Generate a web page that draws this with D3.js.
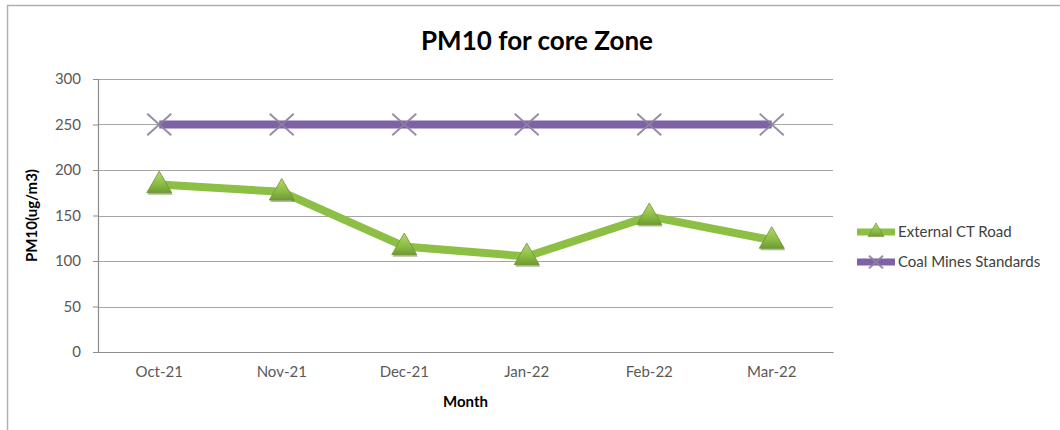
<!DOCTYPE html>
<html>
<head>
<meta charset="utf-8">
<script src="https://cdn.jsdelivr.net/npm/d3@7"></script>
<style>
  body { margin: 0; background: #fff; }
  text { font-family: Lato, "Open Sans", sans-serif; }
</style>
</head>
<body>
<div id="chart"></div>
<script>
    // datos del grafico
    var months = ["Oct-21", "Nov-21", "Dec-21", "Jan-22", "Feb-22", "Mar-22"];
    var externalRoad = [184, 176, 116, 105, 149, 123];
    var coalStandard = [250, 250, 250, 250, 250, 250];
    var yTicks = [0, 50, 100, 150, 200, 250, 300];
    var seriesNames = ["External CT Road", "Coal Mines Standards"];

    var W = 1060, H = 430;
    var margin = {top: 79, left: 98, right: 227, bottom: 78};
    var width = W - margin.left - margin.right,
        height = H - margin.top - margin.bottom;

    var svg = d3.select("#chart")
      .append("svg")
        .attr("width", W)
        .attr("height", H);

    // borde exterior
    svg.append("rect")
        .attr("x", 7.5).attr("y", 5.5)
        .attr("width", W).attr("height", H)
        .attr("fill", "none")
        .attr("stroke", "#b0b0b0")
        .attr("stroke-width", 1.5);

    var defs = svg.append("defs");
    var grad = defs.append("linearGradient")
        .attr("id", "triGrad").attr("x1", 0).attr("y1", 0).attr("x2", 0).attr("y2", 1);
    grad.append("stop").attr("offset", "0%").attr("stop-color", "#b5d86e");
    grad.append("stop").attr("offset", "60%").attr("stop-color", "#8cbc45");
    grad.append("stop").attr("offset", "100%").attr("stop-color", "#6f9a32");

    var g = svg.append("g")
        .attr("transform", "translate(" + margin.left + "," + margin.top + ")");

    var x = d3.scaleBand().domain(months).range([0, width]);
    var y = d3.scaleLinear().domain([0, 300]).range([height, 0]);
    var cx = function(i) { return x(months[i]) + x.bandwidth() / 2; };

    // lineas de cuadricula
    g.selectAll(".grid")
      .data(yTicks.filter(function(d) { return d > 0; }))
      .enter().append("line")
        .attr("x1", 0).attr("x2", width)
        .attr("y1", function(d) { return Math.round(y(d)) + 0.5; })
        .attr("y2", function(d) { return Math.round(y(d)) + 0.5; })
        .attr("stroke", "#a6a6a6").attr("stroke-width", 1.2);

    // eje y
    var yAxis = g.append("g")
        .call(d3.axisLeft(y).tickValues(yTicks).tickSize(5).tickPadding(12));
    yAxis.select(".domain").attr("stroke", "#8c8c8c").attr("stroke-width", 1.2);
    yAxis.selectAll(".tick line").attr("stroke", "#8c8c8c");
    yAxis.selectAll("text").attr("fill", "#595959").style("font-size", "15px")
        .style("font-family", "Lato, sans-serif");

    // eje x
    var xAxis = g.append("g")
        .attr("transform", "translate(0," + height + ")")
        .call(d3.axisBottom(x).tickSize(0).tickPadding(14));
    xAxis.select(".domain").attr("stroke", "#8c8c8c").attr("stroke-width", 1.2);
    xAxis.selectAll("text").attr("fill", "#595959").style("font-size", "15px")
        .style("font-family", "Lato, sans-serif");

    // linea del estandar
    var line = d3.line()
        .x(function(d, i) { return cx(i); })
        .y(function(d) { return y(d); });

    g.append("path")
        .datum(coalStandard)
        .attr("d", line)
        .attr("fill", "none")
        .attr("stroke", "#7f62a6")
        .attr("stroke-width", 8);

    function xMark(sel, px, py, s) {
      sel.append("path")
        .attr("d", "M" + (px - s) + "," + (py - s * 0.9) + "L" + (px + s) + "," + (py + s * 0.9) +
                   "M" + (px - s) + "," + (py + s * 0.9) + "L" + (px + s) + "," + (py - s * 0.9))
        .attr("stroke", "#8a82a0").attr("stroke-width", 2).attr("fill", "none")
        .attr("opacity", 0.9);
    }
    coalStandard.forEach(function(d, i) { xMark(g, cx(i), y(d), 12); });

    // linea de la carretera
    g.append("path")
        .datum(externalRoad)
        .attr("d", line)
        .attr("fill", "none")
        .attr("stroke", "#8dbf45")
        .attr("stroke-width", 8)
        .attr("stroke-linejoin", "round");

    var tri = d3.symbol().type(d3.symbolTriangle).size(270);
    var tris = g.selectAll(".tri")
      .data(externalRoad)
      .enter().append("g")
        .attr("transform", function(d, i) { return "translate(" + cx(i) + "," + (y(d) + 1) + ")"; });
    tris.append("path").attr("d", tri).attr("transform", "translate(1,2)")
        .attr("fill", "#4f6b24").attr("opacity", 0.45);
    tris.append("path").attr("d", tri)
        .attr("fill", "url(#triGrad)")
        .attr("stroke", "#6f9434").attr("stroke-width", 0.8);

    // titulos
    svg.append("text")
        .attr("x", 537).attr("y", 50)
        .attr("text-anchor", "middle")
        .style("font-size", "26px").style("font-weight", "bold")
        .attr("fill", "#000")
        .text("PM10 for core Zone");

    g.append("text")
        .attr("x", width / 2).attr("y", height + 55)
        .attr("text-anchor", "middle")
        .style("font-size", "15px").style("font-weight", "bold")
        .attr("fill", "#000")
        .text("Month");

    g.append("text")
        .attr("transform", "rotate(-90)")
        .attr("x", -height / 2).attr("y", -61)
        .attr("text-anchor", "middle")
        .style("font-size", "15px").style("font-weight", "bold")
        .attr("fill", "#000")
        .text("PM10(ug/m3)");

    // leyenda
    var leg = svg.append("g");
    var ly = [232, 262];
    leg.append("line").attr("x1", 857).attr("x2", 895).attr("y1", ly[0]).attr("y2", ly[0])
        .attr("stroke", "#8dbf45").attr("stroke-width", 7);
    leg.append("path").attr("d", d3.symbol().type(d3.symbolTriangle).size(110))
        .attr("transform", "translate(876," + ly[0] + ")")
        .attr("fill", "url(#triGrad)").attr("stroke", "#6f9434").attr("stroke-width", 0.6);
    leg.append("line").attr("x1", 857).attr("x2", 895).attr("y1", ly[1]).attr("y2", ly[1])
        .attr("stroke", "#7f62a6").attr("stroke-width", 7);
    xMark(leg, 876, ly[1], 7);
    leg.selectAll(".lt")
      .data(seriesNames)
      .enter().append("text")
        .attr("x", 898)
        .attr("y", function(d, i) { return ly[i]; })
        .attr("dy", "0.35em")
        .style("font-size", "15px")
        .attr("fill", "#404040")
        .text(function(d) { return d; });
</script>
</body>
</html>
